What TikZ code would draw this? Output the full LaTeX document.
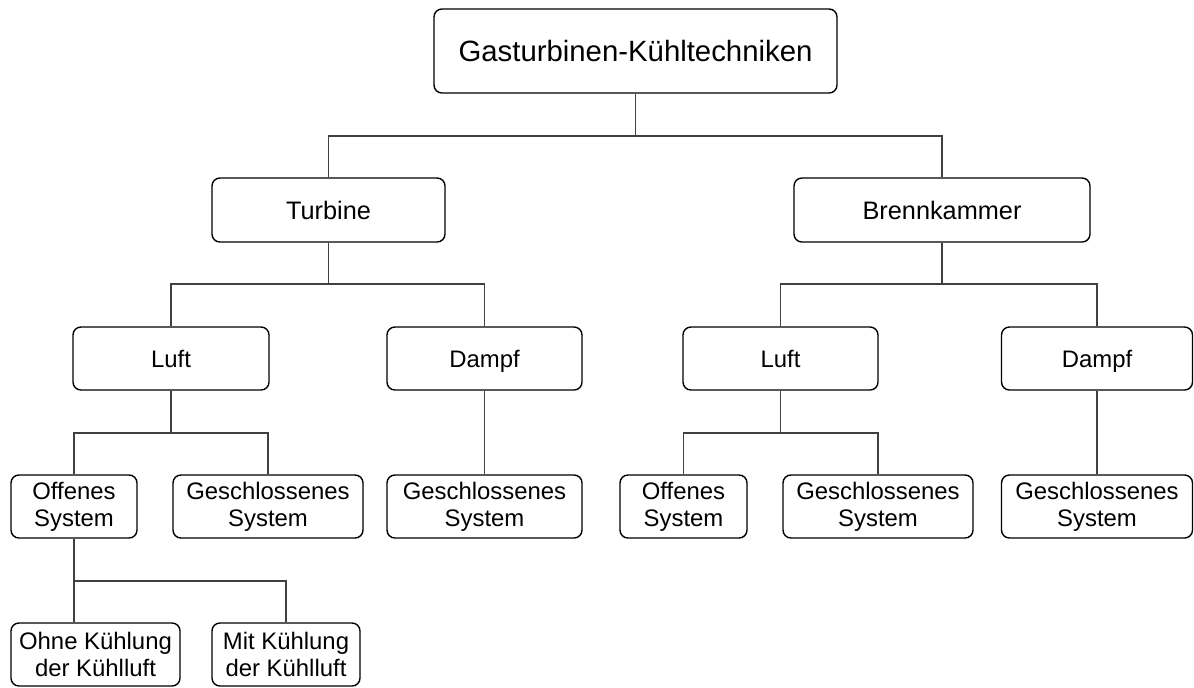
\documentclass[tikz,border=0pt]{standalone}
\usepackage{fontspec}
\setmainfont{Liberation Sans}
\usepackage{tikz}
\usetikzlibrary{positioning,calc}
\newcommand{\pxu}{0.02cm}

\begin{document}
\begin{tikzpicture}[
    x=0.02cm, y=-0.02cm,
    box/.style={draw=black, line width=0.8pt, rounded corners=4.5pt, fill=white, inner sep=0pt, align=center, minimum height=63*\pxu},
    boxtext/.style={font=\fontsize{13.6}{15.3}\selectfont},
    oneline/.style={text height=9.75pt, text depth=0pt},
    link/.style={draw=black!75, line width=0.6pt}
]
    \useasboundingbox (0,0) rectangle (1194,687);

    % Root
    \node[box, minimum width=403*\pxu, minimum height=84*\pxu, font=\fontsize{16.7}{19}\selectfont, text height=11.95pt, text depth=0pt] (root) at (635.5,51) {Gasturbinen-Kühltechniken};

    % Level 1
    \node[box, minimum width=233*\pxu, minimum height=64*\pxu, font=\fontsize{14.4}{16}\selectfont, text height=10.3pt, text depth=0pt] (turb) at (328.5,210) {Turbine};
    \node[box, minimum width=296*\pxu, minimum height=64*\pxu, font=\fontsize{14.4}{16}\selectfont, text height=10.3pt, text depth=0pt] (brenn) at (942,210) {Brennkammer};

    % Level 2
    \node[box, boxtext, oneline, minimum width=196*\pxu] (luft_t) at (171,358.5) {Luft};
    \node[box, boxtext, oneline, minimum width=195*\pxu] (dampf_t) at (484.5,358.5) {Dampf};
    \node[box, boxtext, oneline, minimum width=195*\pxu] (luft_b) at (780.5,358.5) {Luft};
    \node[box, boxtext, oneline, minimum width=191*\pxu] (dampf_b) at (1097,358.5) {Dampf};

    % Level 3
    \node[box, boxtext, minimum width=126*\pxu] (off_t) at (74,506.5) {Offenes\\System};
    \node[box, boxtext, minimum width=190*\pxu] (ges_t) at (268,506.5) {Geschlossenes\\System};
    \node[box, boxtext, minimum width=195*\pxu] (ges_td) at (484.5,506.5) {Geschlossenes\\System};
    \node[box, boxtext, minimum width=127*\pxu] (off_b) at (683.5,506.5) {Offenes\\System};
    \node[box, boxtext, minimum width=190*\pxu] (ges_b) at (878,506.5) {Geschlossenes\\System};
    \node[box, boxtext, minimum width=191*\pxu] (ges_bd) at (1097,506.5) {Geschlossenes\\System};

    % Level 4
    \node[box, boxtext, minimum width=169*\pxu] (ohne) at (95.5,654.5) {Ohne Kühlung\\der Kühlluft};
    \node[box, boxtext, minimum width=148*\pxu] (mit) at (286,654.5) {Mit Kühlung\\der Kühlluft};

    % Junctions
    \coordinate (j_root) at (635.5,136);
    \coordinate (j_turb) at (328.5,284);
    \coordinate (j_brenn) at (942,284);
    \coordinate (j_luft_t) at (171,433);
    \coordinate (j_luft_b) at (780.5,433);
    \coordinate (j_off) at (74,581);

    % Connectors
    \draw[link] (root.south) -- (j_root);
    \draw[link] (turb.north) |- (j_root) -| (brenn.north);

    \draw[link] (turb.south) -- (j_turb);
    \draw[link] (luft_t.north) |- (j_turb) -| (dampf_t.north);
    \draw[link] (brenn.south) -- (j_brenn);
    \draw[link] (luft_b.north) |- (j_brenn) -| (dampf_b.north);

    \draw[link] (luft_t.south) -- (j_luft_t);
    \draw[link] (off_t.north) |- (j_luft_t) -| (ges_t.north);
    \draw[link] (dampf_t.south) -- (ges_td.north);
    \draw[link] (luft_b.south) -- (j_luft_b);
    \draw[link] (off_b.north) |- (j_luft_b) -| (ges_b.north);
    \draw[link] (dampf_b.south) -- (ges_bd.north);

    \draw[link] (off_t.south) -- (off_t.south |- ohne.north);
    \draw[link] (j_off) -| (mit.north);

\end{tikzpicture}
\end{document}
